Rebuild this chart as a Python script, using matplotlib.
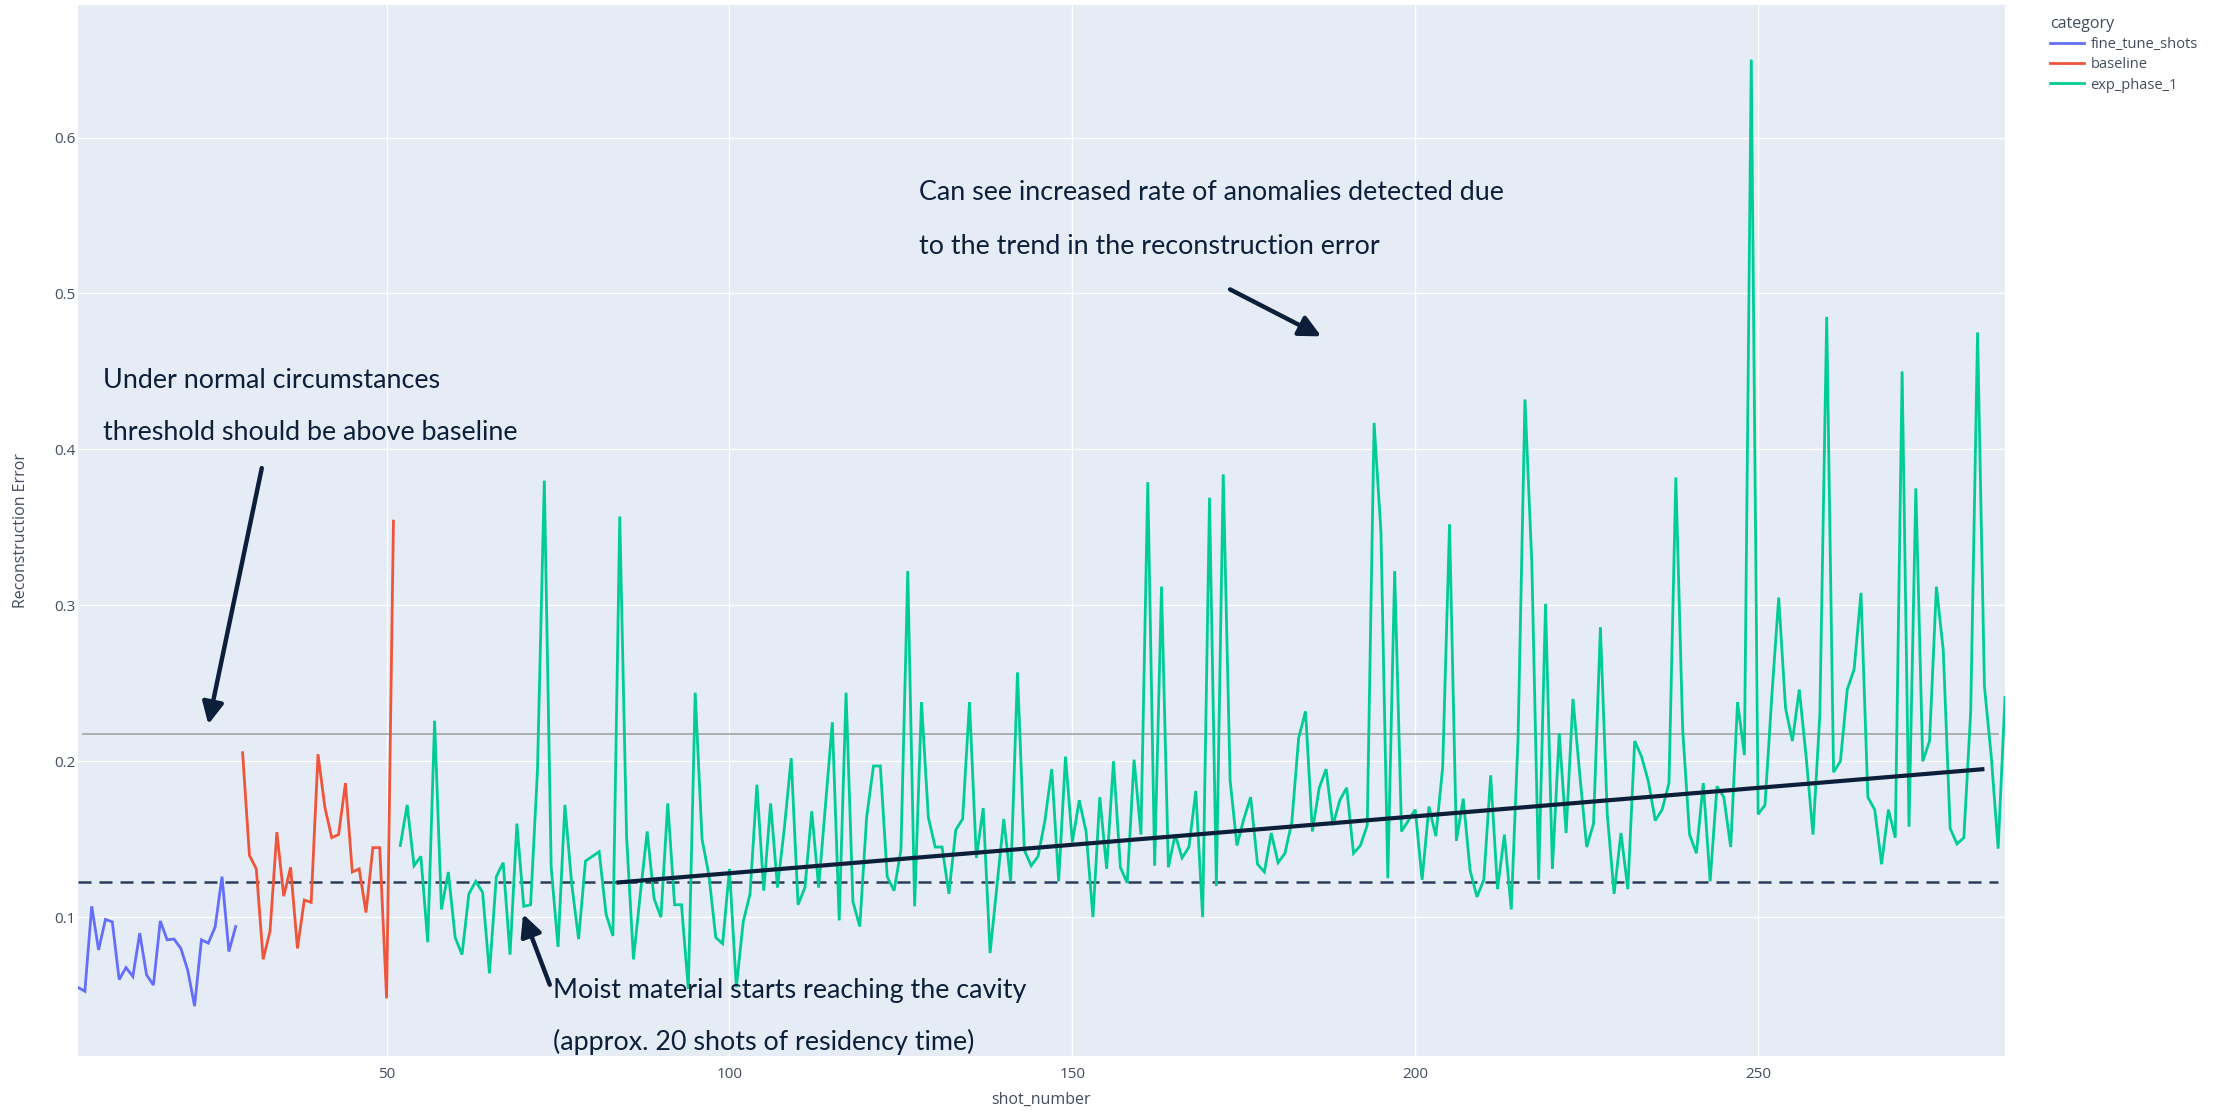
import numpy as np
import matplotlib
matplotlib.use("Agg")
import matplotlib.pyplot as plt
from matplotlib.lines import Line2D

# reconstruction error per shot, one trace per category
fine_tune_shots = np.arange(5, 29)
fine_tune_error = [0.055, 0.0525, 0.107, 0.079, 0.0986, 0.097, 0.060, 0.0677,
                   0.062, 0.0898, 0.063, 0.0565, 0.0976, 0.0855, 0.086, 0.080,
                   0.066, 0.043, 0.0855, 0.0834, 0.0938, 0.126, 0.078, 0.094]

baseline_shots = np.arange(29, 52)
baseline_error = [0.2055, 0.1397, 0.131, 0.073, 0.091, 0.1546, 0.1135, 0.132,
                  0.080, 0.111, 0.1095, 0.2045, 0.1705, 0.151, 0.153, 0.186,
                  0.129, 0.131, 0.103, 0.1446, 0.1446, 0.048, 0.354]

exp_shots = np.arange(52, 287)
exp_error = [
    0.146, 0.172, 0.133, 0.139, 0.084, 0.226, 0.105, 0.129, 0.087, 0.076,   # 52-61
    0.115, 0.123, 0.116, 0.064, 0.126, 0.135, 0.076, 0.160, 0.107, 0.108,   # 62-71
    0.194, 0.380, 0.132, 0.081, 0.172, 0.121, 0.086, 0.136, 0.139, 0.142,   # 72-81
    0.102, 0.088, 0.357, 0.151, 0.073, 0.115, 0.155, 0.112, 0.100, 0.173,   # 82-91
    0.108, 0.108, 0.054, 0.244, 0.150, 0.127, 0.087, 0.083, 0.131, 0.055,   # 92-101
    0.097, 0.115, 0.185, 0.117, 0.173, 0.119, 0.157, 0.202, 0.108, 0.119,   # 102-111
    0.168, 0.119, 0.172, 0.225, 0.098, 0.244, 0.110, 0.094, 0.164, 0.197,   # 112-121
    0.197, 0.126, 0.117, 0.143, 0.322, 0.107, 0.238, 0.164, 0.145, 0.145,   # 122-131
    0.115, 0.156, 0.163, 0.238, 0.138, 0.170, 0.077, 0.120, 0.163, 0.123,   # 132-141
    0.257, 0.143, 0.133, 0.139, 0.162, 0.195, 0.123, 0.203, 0.148, 0.175,   # 142-151
    0.155, 0.100, 0.177, 0.131, 0.200, 0.132, 0.122, 0.201, 0.153, 0.379,   # 152-161
    0.133, 0.312, 0.132, 0.153, 0.138, 0.145, 0.181, 0.100, 0.369, 0.120,   # 162-171
    0.384, 0.188, 0.146, 0.163, 0.177, 0.134, 0.129, 0.154, 0.135, 0.141,   # 172-181
    0.161, 0.215, 0.232, 0.155, 0.183, 0.195, 0.159, 0.175, 0.183, 0.141,   # 182-191
    0.146, 0.159, 0.417, 0.347, 0.125, 0.322, 0.155, 0.162, 0.169, 0.124,   # 192-201
    0.171, 0.152, 0.196, 0.352, 0.149, 0.176, 0.130, 0.113, 0.124, 0.191,   # 202-211
    0.118, 0.153, 0.105, 0.216, 0.432, 0.327, 0.124, 0.301, 0.131, 0.218,   # 212-221
    0.154, 0.240, 0.191, 0.145, 0.160, 0.286, 0.166, 0.115, 0.154, 0.118,   # 222-231
    0.213, 0.203, 0.187, 0.162, 0.169, 0.186, 0.382, 0.220, 0.153, 0.141,   # 232-241
    0.186, 0.123, 0.184, 0.177, 0.145, 0.238, 0.204, 0.650, 0.166, 0.172,   # 242-251
    0.242, 0.305, 0.234, 0.213, 0.246, 0.203, 0.153, 0.230, 0.485, 0.193,   # 252-261
    0.200, 0.246, 0.259, 0.308, 0.177, 0.169, 0.134, 0.169, 0.151, 0.450,   # 262-271
    0.158, 0.375, 0.200, 0.213, 0.312, 0.271, 0.157, 0.147, 0.151, 0.232,   # 272-281
    0.475, 0.248, 0.203, 0.144, 0.241,                                      # 282-286
]

series = [
    ("fine_tune_shots", fine_tune_shots, fine_tune_error, "#636EFA"),
    ("baseline", baseline_shots, baseline_error, "#EF553B"),
    ("exp_phase_1", exp_shots, exp_error, "#00CC96"),
]

# reference levels and the hand-drawn trend
threshold = 0.2174
threshold_span = [5.8, 285]
baseline_level = 0.1223
baseline_span = [5, 285]
trend_x = [83.5, 283]
trend_y = [0.1222, 0.195]

NAVY = "#0b1e3a"
TICK_COLOR = "#434c5e"
NOTE_FONT = "Lato"
UI_FONT = "Open Sans"

W, H = 2223, 1112
fig = plt.figure(figsize=(W / 100, H / 100), dpi=100)
ax = fig.add_axes([78 / W, 1 - 1056 / H, 1927 / W, 1051 / H])
ax.set_facecolor("#E5ECF6")
for s in ax.spines.values():
    s.set_visible(False)

for name, x, y, color in series:
    ax.plot(x, y, color=color, lw=2.0, label=name, zorder=3,
            solid_joinstyle="miter")

ax.plot(threshold_span, [threshold, threshold], color="#a3a3a3", lw=1.2, zorder=2)
ax.plot(baseline_span, [baseline_level, baseline_level], color="#2d3e5c", lw=1.8,
        linestyle=(0, (5.2, 3.2)), zorder=2)
ax.plot(trend_x, trend_y, color=NAVY, lw=3.0, zorder=4, solid_capstyle="butt")

ax.set_xlim(5, 286)
ax.set_ylim(0.011, 0.685)
ax.set_xticks([50, 100, 150, 200, 250])
ax.set_yticks([0.1, 0.2, 0.3, 0.4, 0.5, 0.6])
ax.set_yticklabels(["0.1", "0.2", "0.3", "0.4", "0.5", "0.6"])
ax.grid(True, color="white", lw=1.0, zorder=0)
ax.set_axisbelow(True)
ax.tick_params(length=0, labelsize=11, labelcolor=TICK_COLOR)
ax.tick_params(axis="x", pad=8)
ax.tick_params(axis="y", pad=2)
for lbl in ax.get_xticklabels() + ax.get_yticklabels():
    lbl.set_fontfamily(UI_FONT)

ax.set_xlabel("shot_number", fontsize=11.5, color=TICK_COLOR, family=UI_FONT)
ax.xaxis.set_label_coords(0.5, -0.0343)
ax.set_ylabel("Reconstruction Error", fontsize=11.5, color=TICK_COLOR, family=UI_FONT)
ax.yaxis.set_label_coords(-0.0296, 0.5)
ax.yaxis.label.set_va("center")

# callouts
arrow_kw = dict(arrowstyle="-|>,head_length=0.65,head_width=0.32", lw=3.2,
                color=NAVY, shrinkA=0, shrinkB=0, mutation_scale=20)
notes = [
    (8.65, 0.4442, "Under normal circumstances"),
    (8.65, 0.4109, "threshold should be above baseline"),
    (127.7, 0.5647, "Can see increased rate of anomalies detected due"),
    (127.7, 0.5300, "to the trend in the reconstruction error"),
    (74.3, 0.0532, "Moist material starts reaching the cavity"),
    (74.3, 0.0199, "(approx. 20 shots of residency time)"),
]
for x, y, txt in notes:
    ax.text(x, y, txt, fontsize=19.4, family=NOTE_FONT, color=NAVY,
            ha="left", va="center", zorder=6)

arrows = [
    ((31.8, 0.388), (24.0, 0.2237)),
    ((173.0, 0.5026), (186.3, 0.4725)),
    ((73.8, 0.0567), (69.9, 0.102)),
]
for tail, head in arrows:
    ax.annotate("", xy=head, xytext=tail, arrowprops=arrow_kw, zorder=6)

# legend outside the plot, top right
handles = [Line2D([], [], color=c, lw=2.0) for _, _, _, c in series]
labels = [n for n, _, _, _ in series]
leg = fig.legend(handles, labels, title="category", loc="upper left",
                 bbox_to_anchor=(2040 / W, 1 - 6 / H), frameon=False,
                 alignment="left", handlelength=2.3, handletextpad=0.45,
                 labelspacing=0.35, borderpad=0.2,
                 prop={"family": UI_FONT, "size": 10.5},
                 title_fontproperties={"family": UI_FONT, "size": 11.5})
for t in leg.get_texts():
    t.set_color(TICK_COLOR)
leg.get_title().set_color(TICK_COLOR)

fig.savefig("out.png", dpi=100, facecolor="white")
